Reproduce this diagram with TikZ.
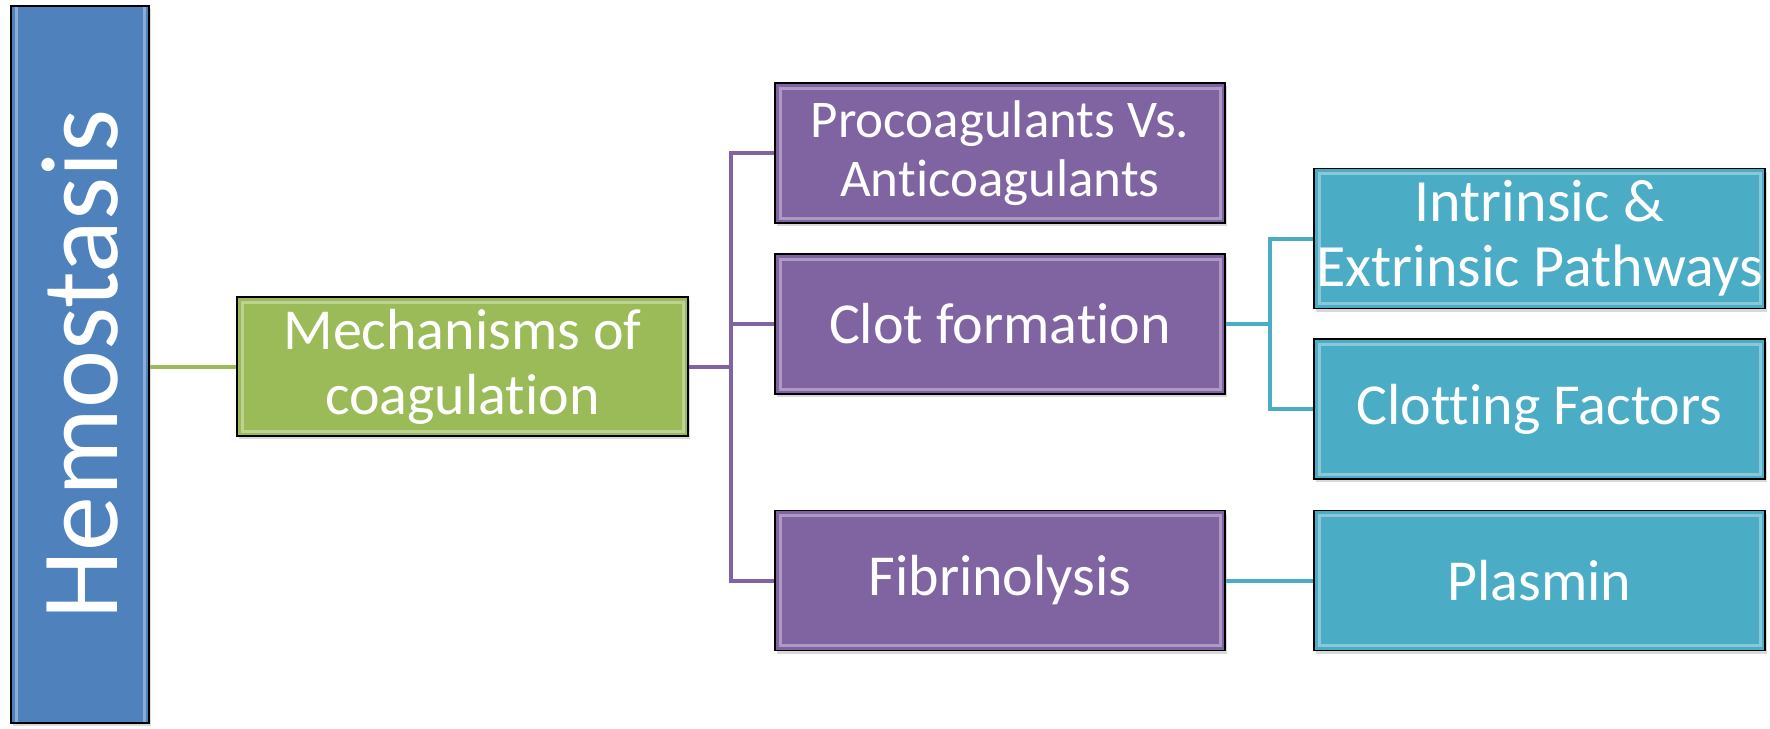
\documentclass[tikz,border=0pt]{standalone}
\usepackage{fontspec}
\setmainfont{Carlito}[Ligatures = NoCommon]
\usetikzlibrary{shadows}
\definecolor{hemo_blue}{HTML}{4F81BD}
\definecolor{mech_green}{HTML}{9BBB59}
\definecolor{topic_purple}{HTML}{8064A2}
\definecolor{sub_teal}{HTML}{4BACC6}

\begin{document}
\begin{tikzpicture}[x=0.5pt, y=-0.5pt,
  bevelbox/.style={rectangle, draw = black, line width = 0.8pt, text = white, align = center, inner sep = 0pt,
    drop shadow = {shadow xshift = 1pt, shadow yshift = -1.5pt, opacity = 0.3},
    path picture = {\draw[white, opacity = 0.35, line width = 1.5pt] ([shift = {(2.5pt,-2.5pt)}]path picture bounding box.north west) rectangle ([shift = {(-2.5pt,2.5pt)}]path picture bounding box.south east);}},
  topicbox/.style={bevelbox, fill = topic_purple, minimum width = 225pt, minimum height = 70pt, font = \fontsize{29}{32.5}\selectfont},
  subbox/.style={bevelbox, fill = sub_teal, minimum width = 225.5pt, minimum height = 70pt, font = \fontsize{29}{32.5}\selectfont},
  link/.style={line width = 2pt}]
\useasboundingbox (0,0) rectangle (1770,728);
\node (Hemo) [bevelbox, fill = hemo_blue, minimum width = 358.5pt, minimum height = 69pt, rotate = 90, font = \fontsize{55}{60}\selectfont] at (80,364.5) {Hemostasis};
\node (Mech) [bevelbox, fill = mech_green, minimum width = 225.5pt, minimum height = 69.5pt, font = \fontsize{29}{32.5}\selectfont] at (462.5,366.5) {Mechanisms of\\coagulation};
\node (Procoag) [topicbox, font = \fontsize{26.5}{29.5}\selectfont] at (1000,153) {Procoagulants Vs.\\Anticoagulants};
\node (Clot) [topicbox] at (1000,324) {Clot formation};
\node (Fibrin) [topicbox] at (1000,580.5) {Fibrinolysis};
\node (Pathways) [subbox, font = \fontsize{30}{32.5}\selectfont] at (1539.5,238.5) {Intrinsic \&\\Extrinsic Pathways};
\node (Factors) [subbox] at (1539.5,409) {Clotting Factors};
\node (Plasmin) [subbox] at (1539.5,580.5) {Plasmin};
% joints of the trees
\coordinate (Trunk) at (731,367);
\coordinate (Fork) at (1270,324);
\draw [link, mech_green] (Hemo.south |- Mech.west) -- (Mech.west);
\draw [link, topic_purple] (Mech.east) -- (Mech.east -| Trunk) |- (Procoag.west);
\draw [link, topic_purple] (Mech.east) -- (Mech.east -| Trunk) |- (Clot.west);
\draw [link, topic_purple] (Mech.east) -- (Mech.east -| Trunk) |- (Fibrin.west);
\draw [link, sub_teal] (Clot.east) -- (Clot.east -| Fork) |- (Pathways.west);
\draw [link, sub_teal] (Clot.east) -- (Clot.east -| Fork) |- (Factors.west);
\draw [link, sub_teal] (Fibrin.east) -- (Plasmin.west);
\end{tikzpicture}
\end{document}
